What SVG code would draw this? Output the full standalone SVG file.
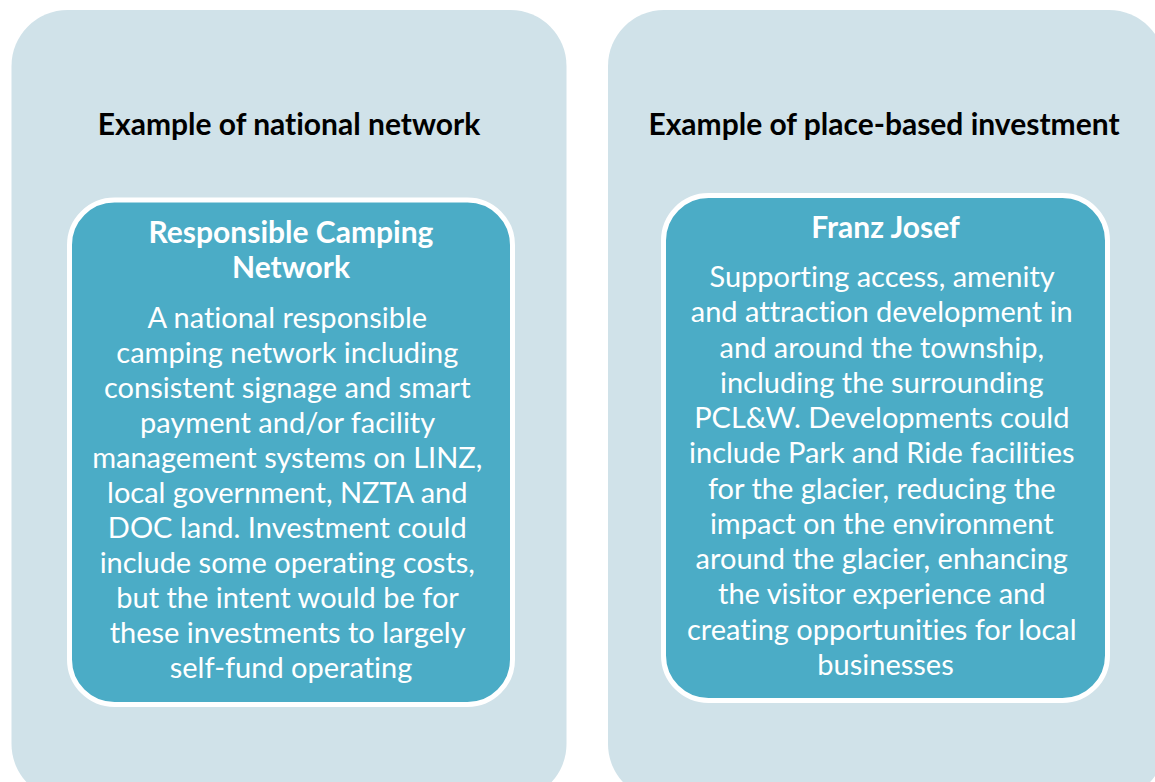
<svg xmlns="http://www.w3.org/2000/svg" width="1155" height="782" viewBox="0 0 1155 782">
  <style>
    .panel { fill: #D0E2E9; }
    .card { fill: #4BACC6; stroke: #FFFFFF; stroke-width: 5; }
    text { font-family: Lato, "Liberation Sans", sans-serif; font-variant-ligatures: none; font-feature-settings: "liga" 0, "clig" 0; text-anchor: middle; }
    .heading { font-weight: 700; font-size: 30px; fill: #000000; }
    .card-title { font-weight: 700; font-size: 30px; fill: #FFFFFF; }
    .card-body { font-weight: 400; font-size: 29px; fill: #FFFFFF; }
  </style>
  <rect width="1155" height="782" fill="#FFFFFF"/>

  <!-- Left column: national network -->
  <g id="national-network">
    <rect class="panel" x="11.5" y="10" width="555" height="790" rx="56" ry="56"/>
    <text class="heading" x="289" y="135">Example of national network</text>
  </g>
  <g id="responsible-camping">
    <rect class="card" x="69.5" y="200" width="443" height="504.5" rx="45" ry="45"/>
    <text class="card-title" x="291" y="243">Responsible Camping</text>
    <text class="card-title" x="291" y="278">Network</text>
    <text class="card-body" x="291">
      <tspan x="291" y="327.5">A national responsible</tspan>
      <tspan x="291" y="362.5">camping network including</tspan>
      <tspan x="291" y="397.5">consistent signage and smart</tspan>
      <tspan x="291" y="432.5">payment and/or facility</tspan>
      <tspan x="291" y="467.5">management systems on LINZ,</tspan>
      <tspan x="291" y="502.5">local government, NZTA and</tspan>
      <tspan x="291" y="537.5">DOC land. Investment could</tspan>
      <tspan x="291" y="572.5">include some operating costs,</tspan>
      <tspan x="291" y="607.5">but the intent would be for</tspan>
      <tspan x="291" y="642.5">these investments to largely</tspan>
      <tspan x="291" y="677.5">self-fund operating</tspan>
    </text>
  </g>

  <!-- Right column: place-based investment -->
  <g id="place-based-investment">
    <rect class="panel" x="608" y="10" width="557" height="790" rx="56" ry="56"/>
    <text class="heading" x="884" y="135">Example of place-based investment</text>
  </g>
  <g id="franz-josef">
    <rect class="card" x="663.5" y="195.5" width="444" height="505" rx="45" ry="45"/>
    <text class="card-title" x="885.5" y="238">Franz Josef</text>
    <text class="card-body" x="885.5">
      <tspan x="885.5" y="287">Supporting access, amenity</tspan>
      <tspan x="885.5" y="322.25">and attraction development in</tspan>
      <tspan x="885.5" y="357.5">and around the township,</tspan>
      <tspan x="885.5" y="392.75">including the surrounding</tspan>
      <tspan x="885.5" y="428">PCL&amp;W. Developments could</tspan>
      <tspan x="885.5" y="463.25">include Park and Ride facilities</tspan>
      <tspan x="885.5" y="498.5">for the glacier, reducing the</tspan>
      <tspan x="885.5" y="533.75">impact on the environment</tspan>
      <tspan x="885.5" y="569">around the glacier, enhancing</tspan>
      <tspan x="885.5" y="604.25">the visitor experience and</tspan>
      <tspan x="885.5" y="639.5">creating opportunities for local</tspan>
      <tspan x="885.5" y="674.75">businesses</tspan>
    </text>
  </g>

  <!-- No connectors between the two columns -->
  <g id="connectors"/>
</svg>
